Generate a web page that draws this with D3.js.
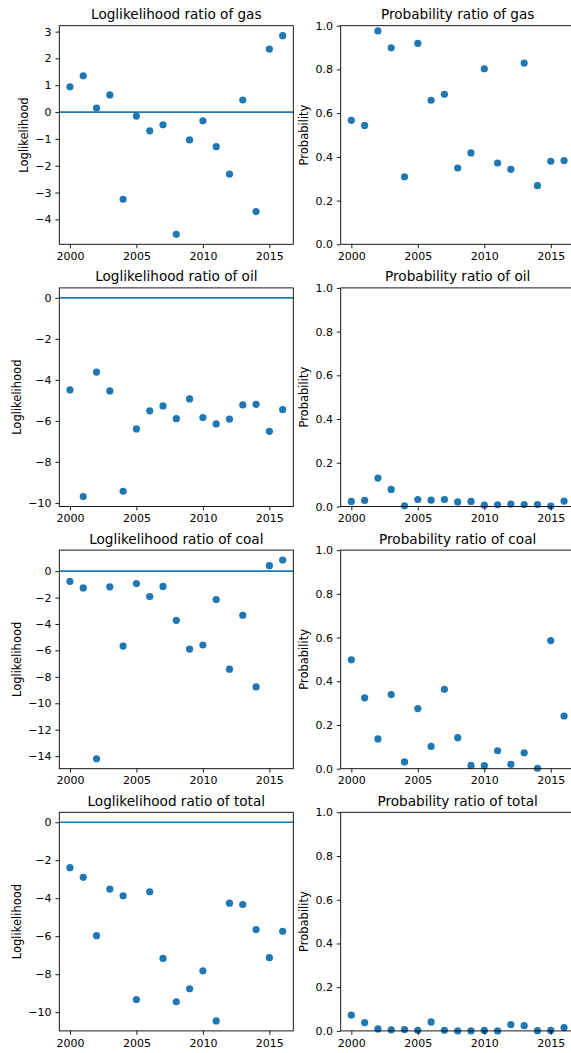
<!DOCTYPE html>
<html>
<head>
<meta charset="utf-8">
<script src="https://cdn.jsdelivr.net/npm/d3@7"></script>
<style>
  body { margin: 0; background: #fff; }
  svg { display: block; }
  text { font-family: "DejaVu Sans", sans-serif; fill: #000; }
</style>
</head>
<body>
<div id="chart"></div>
<script>
// data
var years = [2000, 2001, 2002, 2003, 2004, 2005, 2006, 2007, 2008, 2009, 2010, 2011, 2012, 2013, 2014, 2015, 2016];
var fuels = ["gas", "oil", "coal", "total"];

var gasLogLik = [0.94, 1.35, 0.15, 0.64, -3.25, -0.15, -0.70, -0.475, -4.56, -1.04, -0.325, -1.29, -2.31, 0.45, -3.71, 2.35, 2.85];
var oilLogLik = [-4.49, -9.69, -3.62, -4.54, -9.43, -6.39, -5.51, -5.27, -5.89, -4.93, -5.84, -6.15, -5.91, -5.22, -5.19, -6.51, -5.45];
var coalLogLik = [-0.78, -1.27, -14.2, -1.19, -5.67, -0.94, -1.92, -1.16, -3.72, -5.90, -5.59, -2.15, -7.42, -3.34, -8.76, 0.41, 0.84];
var totalLogLik = [-2.39, -2.90, -5.97, -3.52, -3.87, -9.33, -3.66, -7.17, -9.45, -8.77, -7.82, -10.46, -4.26, -4.33, -5.65, -7.13, -5.74];

var gasProb = [0.567, 0.544, 0.976, 0.899, 0.309, 0.919, 0.659, 0.686, 0.349, 0.418, 0.803, 0.372, 0.343, 0.829, 0.268, 0.380, 0.383];
var oilProb = [0.023, 0.028, 0.130, 0.078, 0.003, 0.032, 0.029, 0.032, 0.021, 0.023, 0.006, 0.008, 0.011, 0.009, 0.009, 0.002, 0.025];
var coalProb = [0.498, 0.324, 0.136, 0.339, 0.031, 0.275, 0.102, 0.363, 0.142, 0.015, 0.014, 0.082, 0.020, 0.073, 0.002, 0.586, 0.241];
var totalProb = [0.072, 0.038, 0.009, 0.005, 0.006, 0.003, 0.041, 0.003, 0.000, 0.000, 0.002, 0.000, 0.029, 0.024, 0.001, 0.002, 0.015];

var yearTicks = [2000, 2005, 2010, 2015];
var gasLogTicks = [3, 2, 1, 0, -1, -2, -3, -4];
var oilLogTicks = [0, -2, -4, -6, -8, -10];
var coalLogTicks = [0, -2, -4, -6, -8, -10, -12, -14];
var totalLogTicks = [0, -2, -4, -6, -8, -10];
var probTicks = [0, 0.2, 0.4, 0.6, 0.8, 1.0];

var logLiks = [gasLogLik, oilLogLik, coalLogLik, totalLogLik];
var probs = [gasProb, oilProb, coalProb, totalProb];
var logTicks = [gasLogTicks, oilLogTicks, coalLogTicks, totalLogTicks];

var blue = "#1f77b4";
var width = 571, height = 1053;
var plotW = 234, plotH = 218.6;
var colLeft = [59.3, 340.7];
var rowTop = 25.7, rowStep = 262.2;

var svg = d3.select("#chart").append("svg")
    .attr("width", width)
    .attr("height", height);

// matplotlib style autoscale: 5% margin each side
function padded(lo, hi) {
    var m = (hi - lo) * 0.05;
    return [lo - m, hi + m];
}

var xDomain = padded(d3.min(years), d3.max(years));

function drawPanel(left, top, values, yDomain, yTicks, yFmt, title, ylabel, zeroLine) {
    var g = svg.append("g")
        .attr("transform", "translate(" + left + "," + top + ")");
    var x = d3.scaleLinear().domain(xDomain).range([0, plotW]);
    var y = d3.scaleLinear().domain(yDomain).range([plotH, 0]);

    // points
    g.selectAll("circle")
        .data(values)
        .enter().append("circle")
        .attr("cx", function (d, i) { return x(years[i]); })
        .attr("cy", function (d) { return y(d); })
        .attr("r", 3.6)
        .style("fill", blue);

    if (zeroLine) {
        g.append("line")
            .attr("x1", 0)
            .attr("x2", plotW)
            .attr("y1", y(0))
            .attr("y2", y(0))
            .style("stroke", blue)
            .style("stroke-width", 1.7);
    }

    // x & y axis
    var xAxis = g.append("g")
        .attr("class", "axis")
        .attr("transform", "translate(0," + plotH + ")")
        .call(d3.axisBottom(x).tickValues(yearTicks).tickFormat(d3.format("d")).tickSize(3.9).tickPadding(3.9));
    var yAxis = g.append("g")
        .attr("class", "axis")
        .call(d3.axisLeft(y).tickValues(yTicks).tickFormat(yFmt).tickSize(3.9).tickPadding(3.9));
    g.selectAll(".axis .domain").remove();
    g.selectAll(".axis text")
        .style("font-size", "11px")
        .style("font-family", "DejaVu Sans, sans-serif")
        .attr("fill", "#000");
    g.selectAll(".axis line").attr("stroke", "#000").attr("stroke-width", 0.9);
    xAxis.selectAll("text").attr("dy", "0.71em");

    // frame
    g.append("rect")
        .attr("width", plotW)
        .attr("height", plotH)
        .style("fill", "none")
        .style("stroke", "#000")
        .style("stroke-width", 0.9);

    g.append("text")
        .attr("x", plotW / 2)
        .attr("y", -6.5)
        .style("text-anchor", "middle")
        .style("font-size", "13.6px")
        .text(title);

    // y label sits left of the widest tick label
    var minX = 0;
    yAxis.selectAll("text").each(function () {
        var b = this.getBBox();
        if (b.x < minX) minX = b.x;
    });
    g.append("text")
        .attr("transform", "translate(" + (minX - 4.4 - 2.7) + "," + (plotH / 2) + ") rotate(-90)")
        .style("text-anchor", "middle")
        .style("font-size", "11.5px")
        .text(ylabel);
}

fuels.forEach(function (fuel, r) {
    var top = rowTop + r * rowStep;
    var ll = logLiks[r];
    drawPanel(colLeft[0], top, ll,
        padded(Math.min(0, d3.min(ll)), Math.max(0, d3.max(ll))),
        logTicks[r], d3.format("d"),
        "Loglikelihood ratio of " + fuel, "Loglikelihood", true);
    drawPanel(colLeft[1], top, probs[r], [0, 1],
        probTicks, d3.format(".1f"),
        "Probability ratio of " + fuel, "Probability", false);
});
</script>
</body>
</html>
